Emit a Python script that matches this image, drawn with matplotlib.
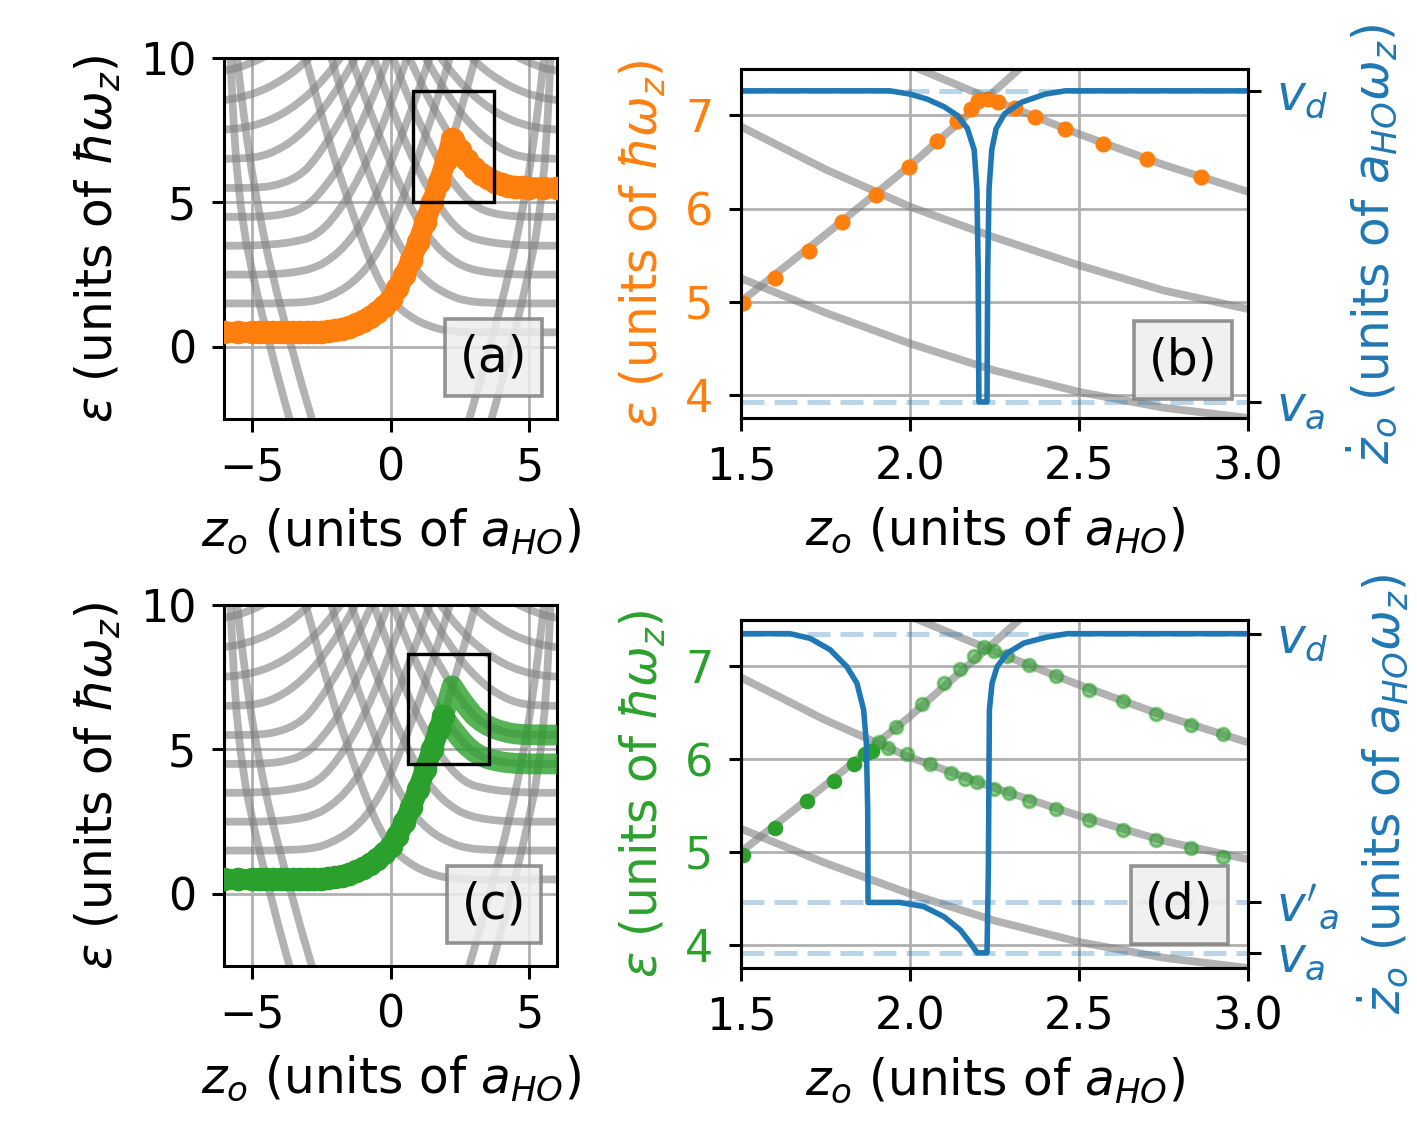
import numpy as np
import matplotlib.pyplot as plt
from matplotlib.patches import Rectangle

# ---- gray spectrum ----
# levels living on the right of the ion: flat at n+1/2 for z_o -> -inf,
# the mirror image z_o -> -z_o gives the levels on the left of the ion
z_grid = [-6.0, -5.5, -5.0, -4.75, -4.5, -4.25, -4.0, -3.75, -3.5, -3.25,
          -3.0, -2.75, -2.5, -2.25, -2.0, -1.75, -1.5, -1.25, -1.0, -0.75,
          -0.5, -0.25, 0.0, 0.25, 0.5, 0.75, 1.0, 1.25, 1.5, 1.75,
          2.0, 2.25, 2.5, 2.75, 3.0, 3.25, 3.5]
level_0 = [0.5, 0.5, 0.5, 0.5, 0.5, 0.5, 0.5, 0.5, 0.5, 0.5,
           0.5, 0.51, 0.52, 0.54, 0.57, 0.62, 0.69, 0.78, 0.89, 1.03,
           1.2, 1.4, 1.64, 2.02, 2.48, 3.02, 3.64, 4.31, 5.0, 5.72,
           6.46, 7.26, 8.08, 8.93, 9.8, 10.7]
level_1 = [1.5, 1.5, 1.5, 1.5, 1.5, 1.5, 1.51, 1.52, 1.53, 1.54,
           1.56, 1.6, 1.65, 1.74, 1.85, 1.98, 2.14, 2.34, 2.58, 2.88,
           3.24, 3.66, 4.14, 4.7, 5.3, 5.94, 6.6, 7.3, 8.02, 8.78,
           9.56, 10.38, 11.2]
level_2 = [2.5, 2.5, 2.5, 2.5, 2.51, 2.52, 2.53, 2.55, 2.58, 2.62,
           2.67, 2.75, 2.85, 3.0, 3.18, 3.4, 3.67, 3.98, 4.36, 4.8,
           5.28, 5.8, 6.36, 6.95, 7.56, 8.2, 8.86, 9.55, 10.26, 11.0]
level_3 = [3.5, 3.5, 3.51, 3.52, 3.53, 3.55, 3.57, 3.6, 3.64, 3.69,
           3.75, 3.86, 4.03, 4.26, 4.55, 4.88, 5.25, 5.67, 6.13, 6.63,
           7.18, 7.78, 8.41, 9.06, 9.73, 10.42]
level_4 = [4.5, 4.5, 4.5, 4.51, 4.52, 4.54, 4.57, 4.62, 4.68, 4.78,
           4.92, 5.12, 5.39, 5.69, 6.02, 6.42, 6.88, 7.36, 7.86, 8.4,
           8.98, 9.6, 10.24, 10.9]
level_5 = [5.5, 5.5, 5.51, 5.52, 5.54, 5.58, 5.64, 5.72, 5.83, 5.98,
           6.18, 6.47, 6.8, 7.16, 7.54, 7.95, 8.38, 8.84, 9.33, 9.85,
           10.4]
level_6 = [6.51, 6.52, 6.55, 6.59, 6.65, 6.74, 6.86, 7.0, 7.17, 7.37,
           7.6, 7.86, 8.15, 8.47, 8.82, 9.2, 9.6, 10.03, 10.48]
level_7 = [7.52, 7.56, 7.65, 7.72, 7.8, 7.9, 8.02, 8.16, 8.32, 8.5,
           8.7, 8.93, 9.18, 9.46, 9.76, 10.08, 10.42]
level_8 = [8.54, 8.62, 8.75, 8.84, 8.94, 9.06, 9.2, 9.35, 9.52, 9.72,
           9.94, 10.18, 10.44]
level_9 = [9.56, 9.66, 9.84, 9.95, 10.07, 10.2, 10.35, 10.52]
levels = [level_0, level_1, level_2, level_3, level_4,
          level_5, level_6, level_7, level_8, level_9]

# steep bound-state lines (left side, mirrored to the right)
bound_outer_z = [-5.78, -5.72, -5.65, -5.55, -5.4, -5.2, -4.95, -4.7, -4.4, -4.1, -3.8, -3.55]
bound_outer_e = [10.3, 9.0, 7.7, 6.3, 4.9, 3.6, 2.45, 1.4, 0.25, -0.88, -1.95, -2.8]
bound_inner_z = [-5.55, -5.4, -5.2, -5.0, -4.8, -4.6, -4.4, -4.1, -3.8, -3.5, -3.2, -2.85]
bound_inner_e = [10.2, 8.9, 7.4, 6.1, 5.0, 4.0, 3.1, 1.9, 0.8, -0.25, -1.3, -2.45]

# crossings where the state leaves the ground level
z_cross_hi, e_cross_hi = 2.22, 7.2    # with level 5
z_cross_lo, e_cross_lo = 1.9, 6.15    # with level 4

# zoom boxes drawn in (a) and (c): x, y, width, height
box_a = [0.8, 5.0, 2.92, 3.86]
box_c = [0.64, 4.48, 2.91, 3.84]

# dots of panel (b)
dots_b_z = [1.507, 1.60, 1.70, 1.80, 1.90, 1.996, 2.08, 2.14, 2.18, 2.20,
            2.23, 2.26, 2.31, 2.37, 2.46, 2.57, 2.70, 2.86]
dots_b_e = [4.99, 5.25, 5.54, 5.85, 6.15, 6.45, 6.73, 6.94, 7.07, 7.15,
            7.18, 7.14, 7.08, 6.98, 6.85, 6.69, 6.53, 6.34]

# dots of panel (d)
dots_d_main_z = [1.507, 1.60, 1.695, 1.774, 1.833, 1.868, 1.887]
dots_d_main_e = [4.97, 5.26, 5.55, 5.76, 5.95, 6.05, 6.09]
dots_d_up_z = [1.907, 1.96, 2.036, 2.10, 2.149, 2.189, 2.218, 2.248, 2.288, 2.352,
               2.431, 2.53, 2.629, 2.727, 2.831, 2.925]
dots_d_up_e = [6.18, 6.35, 6.59, 6.82, 6.97, 7.11, 7.21, 7.17, 7.11, 7.01,
               6.90, 6.75, 6.63, 6.49, 6.37, 6.27]
dots_d_low_z = [1.935, 1.991, 2.06, 2.12, 2.164, 2.199, 2.248, 2.292, 2.352, 2.431,
                2.53, 2.629, 2.727, 2.831, 2.925]
dots_d_low_e = [6.12, 6.05, 5.95, 5.85, 5.79, 5.75, 5.68, 5.63, 5.55, 5.46,
                5.34, 5.24, 5.13, 5.04, 4.95]

# velocity protocols
v_d, v_a, v_a2 = 1.0, 0.05, 0.2
vel_b_z = [1.5, 1.94, 2.0, 2.05, 2.10, 2.14, 2.17, 2.19, 2.198, 2.202, 2.204,
           2.228, 2.230, 2.234, 2.242, 2.255, 2.28, 2.33, 2.40, 2.46, 3.0]
vel_b_v = [1.0, 1.0, 0.99, 0.975, 0.952, 0.925, 0.885, 0.82, 0.7, 0.45, 0.05,
           0.05, 0.45, 0.7, 0.82, 0.885, 0.93, 0.965, 0.99, 1.0, 1.0]
vel_d_z = [1.5, 1.645, 1.705, 1.764, 1.813, 1.843, 1.863, 1.871, 1.875, 1.876,
           1.97, 2.04, 2.10, 2.149, 2.179, 2.199, 2.228, 2.232, 2.235, 2.243,
           2.258, 2.288, 2.337, 2.406, 2.466, 3.0]
vel_d_v = [1.0, 1.0, 0.986, 0.952, 0.902, 0.853, 0.773, 0.674, 0.476, 0.2,
           0.2, 0.188, 0.158, 0.118, 0.079, 0.05, 0.05, 0.3, 0.773, 0.853,
           0.902, 0.942, 0.972, 0.99, 1.0, 1.0]

C_OR = '#ff7f0e'
C_GR = '#2ca02c'
C_BL = '#1f77b4'
FS_TICK = 16
FS_LAB = 17.5

plt.rcParams['font.size'] = FS_TICK
plt.rcParams['axes.labelsize'] = FS_LAB
plt.rcParams['axes.labelpad'] = 6
plt.rcParams['axes.linewidth'] = 1.1
plt.rcParams['xtick.major.width'] = 1.1
plt.rcParams['ytick.major.width'] = 1.1
plt.rcParams['xtick.major.size'] = 4.5
plt.rcParams['ytick.major.size'] = 4.5
plt.rcParams['xtick.major.pad'] = 5.5
plt.rcParams['ytick.major.pad'] = 5.5

zg = np.array(z_grid)


def rising(level, z_max):
    e = np.array(level)
    z = zg[:len(e)]
    m = z < z_max
    return z[m], e[m]


def falling(level, z_min):
    e = np.array(level)
    z = -zg[:len(e)]
    m = z > z_min
    return z[m][::-1], e[m][::-1]


def draw_spectrum(ax):
    for lev in levels:
        e = np.array(lev)
        z = zg[:len(e)]
        ax.plot(z, e, color='gray', alpha=0.6, lw=2.8)
        ax.plot(-z, e, color='gray', alpha=0.6, lw=2.8)
    for bz, be in [(bound_outer_z, bound_outer_e), (bound_inner_z, bound_inner_e)]:
        ax.plot(bz, be, color='gray', alpha=0.6, lw=2.8)
        ax.plot(-np.array(bz), be, color='gray', alpha=0.6, lw=2.8)


def label_box(ax, x, y, s):
    ax.text(x, y, s, transform=ax.transAxes, ha='center', va='center', fontsize=FS_LAB,
            zorder=10, bbox=dict(boxstyle='square,pad=0.3', fc='#eeeeee', ec='gray',
                                 lw=1.3, alpha=0.85))


def left_panel(ax, color, box, tag, split):
    draw_spectrum(ax)
    z0, e0 = rising(level_0, z_cross_lo if split else z_cross_hi)
    kw = dict(color=color, lw=7.5, solid_capstyle='round', zorder=3)
    if not split:
        z5, e5 = falling(level_5, z_cross_hi)
        pz = np.concatenate([z0, [z_cross_hi], z5])
        pe = np.concatenate([e0, [e_cross_hi], e5])
        ax.plot(pz, pe, marker='o', ms=7.5, **kw)
    else:
        pz = np.concatenate([z0, [z_cross_lo]])
        pe = np.concatenate([e0, [e_cross_lo]])
        ax.plot(pz, pe, marker='o', ms=7.5, **kw)
        zr = zg[:len(level_0)]
        er = np.array(level_0)
        m = (zr > z_cross_lo) & (zr < z_cross_hi)
        z5, e5 = falling(level_5, z_cross_hi)
        uz = np.concatenate([[z_cross_lo], zr[m], [z_cross_hi], z5])
        ue = np.concatenate([[e_cross_lo], er[m], [e_cross_hi], e5])
        ax.plot(uz, ue, alpha=0.8, **kw)
        z4, e4 = falling(level_4, z_cross_lo)
        lz = np.concatenate([[z_cross_lo], z4])
        le = np.concatenate([[e_cross_lo], e4])
        ax.plot(lz, le, alpha=0.8, **kw)
    ax.add_patch(Rectangle((box[0], box[1]), box[2], box[3], fill=False,
                           ec='black', lw=1.2, zorder=4))
    ax.set_xlim(-6, 6)
    ax.set_ylim(-2.5, 10)
    ax.set_xticks([-5, 0, 5])
    ax.set_yticks([0, 5, 10])
    ax.grid(True, color='#b0b0b0', lw=1.0)
    ax.set_xlabel(r'$z_o$ (units of $a_{HO}$)')
    ax.set_ylabel(r'$\varepsilon$ (units of $\hbar\omega_z$)')
    label_box(ax, 0.81, 0.17, tag)


def right_panel(ax, color, vz, vv, vticks, vlabels, vlim):
    draw_spectrum(ax)
    ax.set_xlim(1.5, 3.0)
    ax.set_ylim(3.75, 7.5)
    ax.set_xticks([1.5, 2.0, 2.5, 3.0])
    ax.set_yticks([4, 5, 6, 7])
    ax.grid(True, color='#b0b0b0', lw=1.0)
    ax.tick_params(axis='y', labelcolor=color)
    ax.set_xlabel(r'$z_o$ (units of $a_{HO}$)')
    ax.set_ylabel(r'$\varepsilon$ (units of $\hbar\omega_z$)', color=color)
    tw = ax.twinx()
    for v in vticks:
        tw.axhline(v, color=C_BL, alpha=0.3, lw=1.8, ls=(0, (4.6, 2.0)))
    tw.plot(vz, vv, color=C_BL, lw=2.0)
    tw.set_ylim(*vlim)
    tw.set_yticks(vticks)
    tw.set_yticklabels(vlabels, fontsize=FS_LAB)
    tw.tick_params(axis='y', labelcolor=C_BL)
    tw.set_ylabel(r'$\dot{z}_o$ (units of $a_{HO}\omega_z$)', color=C_BL)
    return tw


fig = plt.figure(figsize=(7.085, 5.61), dpi=200)
ax_a = fig.add_axes([0.1581, 0.6266, 0.2350, 0.3217])
ax_b = fig.add_axes([0.5229, 0.6275, 0.3578, 0.3111])
ax_c = fig.add_axes([0.1581, 0.1390, 0.2350, 0.3217])
ax_d = fig.add_axes([0.5229, 0.1373, 0.3578, 0.3102])

left_panel(ax_a, C_OR, box_a, '(a)', split=False)
left_panel(ax_c, C_GR, box_c, '(c)', split=True)

tw_b = right_panel(ax_b, C_OR, vel_b_z, vel_b_v, [v_a, v_d], [r'$v_a$', r'$v_d$'],
                   (0.001, 1.067))
ax_b.plot(dots_b_z, dots_b_e, 'o', color=C_OR, ms=4.8, zorder=3)
label_box(tw_b, 0.872, 0.166, '(b)')

tw_d = right_panel(ax_d, C_GR, vel_d_z, vel_d_v, [v_a, v_a2, v_d],
                   [r'$v_a$', r"$v'_a$", r'$v_d$'], (0.005, 1.041))
ax_d.plot(dots_d_main_z, dots_d_main_e, 'o', color=C_GR, ms=4.6, zorder=3)
ax_d.plot(dots_d_up_z, dots_d_up_e, 'o', color=C_GR, ms=4.6, alpha=0.55, zorder=3)
ax_d.plot(dots_d_low_z, dots_d_low_e, 'o', color=C_GR, ms=4.6, alpha=0.55, zorder=3)
label_box(tw_d, 0.865, 0.181, '(d)')

fig.savefig('out.png', dpi=200)
